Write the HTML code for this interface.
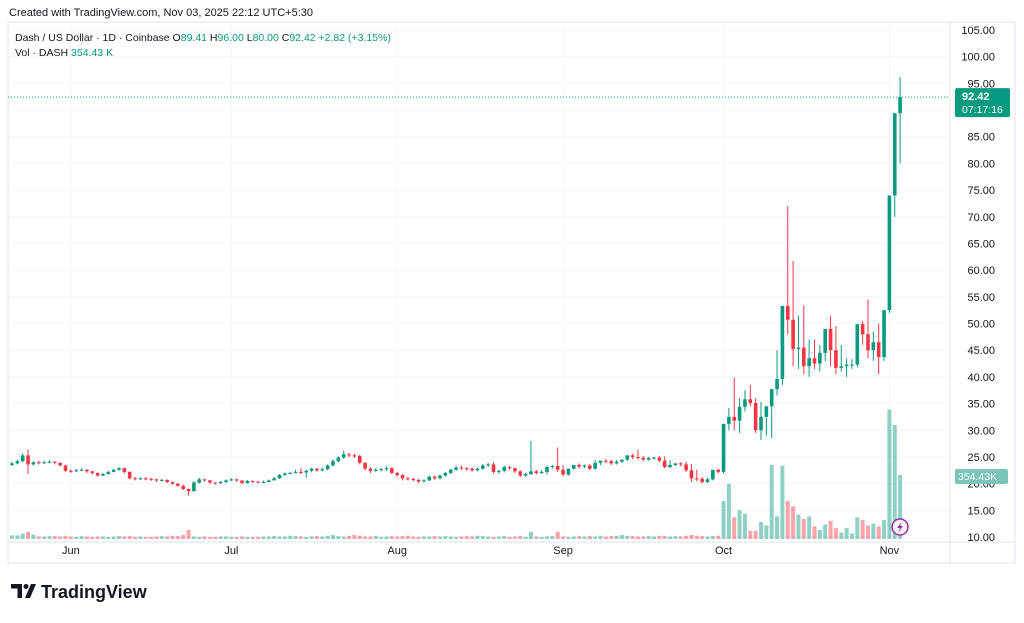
<!DOCTYPE html>
<html><head><meta charset="utf-8"><style>
body{margin:0;background:#fff;width:1024px;height:618px;overflow:hidden;font-family:"Liberation Sans",sans-serif}
svg text{font-family:"Liberation Sans",sans-serif}
</style></head><body>
<svg id="chart" width="1024" height="618" viewBox="0 0 1024 618" xmlns="http://www.w3.org/2000/svg">
<rect x="0" y="0" width="1024" height="618" fill="#fff"/>
<text x="9" y="16" font-size="11" fill="#131722">Created with TradingView.com, Nov 03, 2025 22:12 UTC+5:30</text>
<rect x="8" y="22" width="1007" height="541" fill="none" stroke="#e0e3eb"/>
<line x1="950" y1="22" x2="950" y2="563" stroke="#e0e3eb"/>
<line x1="8" y1="542" x2="1015" y2="542" stroke="#e0e3eb"/>
<g id="grid"></g><g id="vols"></g><g id="candles"></g><g id="axis"></g>
<text x="15" y="41" font-size="10.5" fill="#131722">Dash / US Dollar · 1D · Coinbase  O<tspan fill="#089981">89.41</tspan>  H<tspan fill="#089981">96.00</tspan>  L<tspan fill="#089981">80.00</tspan>  C<tspan fill="#089981">92.42</tspan>  <tspan fill="#089981">+2.82 (+3.15%)</tspan></text>
<text x="15" y="56" font-size="10.5" fill="#131722">Vol · DASH  <tspan fill="#089981">354.43 K</tspan></text>
<g><circle cx="900" cy="527" r="8" fill="#fff" stroke="#9c27b0" stroke-width="1.5"/><path d="M902 521 L897 528 L900 528 L898 533 L903 526 L900 526 Z" fill="#9c27b0"/></g>
<g><path d="M11 584h11v14h-4.5v-9.5h-6.5z M31 584h5l-6 14h-5z" fill="#131722"/><circle cx="26" cy="586.5" r="2.5" fill="#131722"/><text x="41" y="598" font-size="18" font-weight="bold" fill="#131722">TradingView</text></g>
</svg>
<script>
const closes=[23.8,24.2,25.3,23.6,24.0,23.9,24.0,24.1,23.9,23.4,22.4,
22.3,22.5,22.6,22.3,22.0,21.5,21.8,22.2,22.6,22.9,
22.2,21.0,20.9,21.0,20.9,20.8,20.6,20.7,20.3,20.0,
19.6,19.0,18.6,20.2,20.8,20.6,20.2,20.1,20.3,20.6,
20.8,20.6,20.1,20.5,20.4,20.3,20.3,20.6,21.0,21.6,
21.9,22.0,22.2,22.1,22.4,22.8,22.5,22.7,23.4,24.2,
24.9,25.5,25.3,25.2,23.9,22.8,22.4,22.6,22.7,22.9,22.0,
21.6,21.0,20.9,20.7,20.4,20.6,21.3,21.0,21.5,22.0,22.6,
23.0,22.9,22.8,22.5,22.8,23.4,23.6,22.2,22.4,23.1,
22.9,22.3,21.5,21.8,22.3,22.0,22.2,23.1,23.3,22.6,
21.7,22.8,23.5,23.2,23.4,22.8,23.9,24.3,24.2,23.8,
24.1,24.5,25.3,25.0,24.8,24.5,24.8,24.9,24.3,23.1,
23.5,23.8,23.6,22.5,21.0,20.9,20.3,20.8,22.6,22.2,
31.2,32.5,31.8,34.4,35.8,35.1,30.0,32.5,34.5,37.7,39.6,
53.3,50.7,45.2,45.5,42.0,43.5,42.5,44.5,49.0,45.0,41.7,
42.0,42.3,42.3,49.9,48.0,45.0,46.5,43.7,52.5,74.0,89.41,92.42];
const highs=[24.1,24.5,25.7,26.4,24.2,24.3,24.3,24.4,24.2,24.0,23.5,
22.7,22.8,22.9,22.7,22.4,22.1,22.0,22.4,22.8,23.1,
23.0,22.3,21.3,21.2,21.2,21.1,20.9,20.9,20.8,20.4,
20.1,19.8,19.1,20.5,21.1,20.9,20.7,20.3,20.5,20.8,
21.0,20.9,20.6,20.7,20.6,20.5,20.6,20.8,21.2,21.8,
22.1,22.2,22.6,22.9,22.6,23.0,22.9,23.0,23.6,24.6,
25.1,26.2,25.8,25.6,25.4,24.0,23.1,22.9,23.0,23.2,23.1,
22.2,21.8,21.3,21.1,20.9,20.8,21.5,21.5,21.7,22.2,22.8,
23.4,23.4,23.1,23.0,23.0,23.7,23.9,24.0,22.6,23.4,
23.3,23.0,22.5,22.0,28.0,22.6,22.5,23.4,23.5,26.8,
23.5,22.8,23.1,23.8,23.6,23.7,24.4,24.2,24.6,24.5,
24.4,24.3,24.7,25.6,26.4,25.2,25.0,25.0,25.2,25.1,
24.4,23.7,24.0,24.1,23.7,22.6,21.3,21.1,20.9,22.8,22.8,
34.2,39.8,36.0,37.5,38.5,36.0,35.3,33.5,35.5,45.0,43.7,
72.0,61.7,51.5,53.4,47.0,47.0,46.0,45.5,51.5,49.5,46.0,
43.5,43.3,43.0,50.5,54.5,48.5,50.0,47.0,53.5,79.5,96.2,96.0];
const lows=[23.3,23.6,24.0,21.8,23.4,23.6,23.7,23.8,23.6,23.2,22.2,
22.0,22.2,22.3,22.0,21.7,21.3,21.4,21.7,22.1,22.4,
21.9,20.8,20.6,20.7,20.6,20.5,20.3,20.4,20.1,19.8,
19.4,18.8,17.8,18.5,20.0,20.4,19.9,19.8,19.9,20.1,
20.5,20.3,19.9,20.0,20.1,20.0,20.1,20.3,20.8,20.9,
21.5,21.7,21.9,21.8,21.1,22.1,22.2,22.3,22.5,23.2,
24.0,24.6,24.9,24.8,23.6,22.5,22.0,22.2,22.3,22.4,21.8,
21.3,20.6,20.6,20.4,20.1,20.2,20.5,20.7,20.8,21.3,21.8,
22.4,22.6,22.4,22.2,22.3,22.6,23.1,21.9,21.8,22.1,
22.6,22.0,21.2,21.3,21.6,21.7,21.8,21.7,22.8,22.2,
21.4,21.5,22.6,22.8,22.9,22.5,22.6,23.5,23.8,23.5,
23.6,23.9,24.2,24.6,24.5,24.2,24.3,24.5,24.0,22.9,
22.9,23.3,23.2,22.2,20.3,20.4,20.0,20.1,20.6,21.9,
21.9,30.0,30.0,29.5,33.5,34.5,29.5,28.2,29.0,28.5,36.5,
38.5,48.0,42.0,41.5,40.5,40.0,41.5,41.0,43.0,42.0,40.5,
41.0,40.0,41.5,41.8,46.0,43.5,43.0,40.5,43.0,52.0,70.0,80.0];
const volumes=[20,20,30,40,25,14,14,16,16,14,18,
14,12,16,14,12,14,14,12,14,16,
14,16,12,14,12,12,14,16,14,18,
16,22,50,14,12,14,12,12,14,14,
12,12,14,12,12,12,14,14,16,14,
14,18,16,14,12,14,16,14,18,22,
16,14,18,22,18,14,14,16,12,14,16,
14,16,18,14,12,14,14,16,14,16,14,
12,14,16,14,18,16,14,12,14,16,
12,14,16,12,40,14,12,14,16,40,
14,12,14,16,14,16,14,18,14,16,
18,22,18,16,14,14,16,14,18,16,
14,16,14,18,22,18,16,14,16,18,
210,305,120,160,140,45,45,95,75,410,125,
405,210,180,135,110,125,70,50,80,100,60,
35,60,30,120,105,75,85,70,105,715,630,354.43];
const priceTicks=[10,15,20,25,30,35,40,45,50,55,60,65,70,75,80,85,90,95,100,105];
const monthLabels=["Jun","Jul","Aug","Sep","Oct","Nov"];
const monthIndex=[11,41,72,103,133,164];
const NS="http://www.w3.org/2000/svg";
const X0=12,DX=5.35;
function xs(i){return X0+i*DX;}
function ys(p){return 537-(p-10)*5.337;}
function yv(v){return 539-v*0.181;}
function mk(tag,at,parent){const e=document.createElementNS(NS,tag);for(const k in at)e.setAttribute(k,at[k]);document.getElementById(parent).appendChild(e);return e;}
const G="#089981",R="#f23645";
priceTicks.forEach((p,i)=>{
 const l=mk('line',{x1:8,x2:950,y1:ys(p),y2:ys(p),stroke:'#f3f5fa'},'grid');
 
 
 const t=mk('text',{x:995,y:ys(p)+4,'font-size':11,fill:'#131722','text-anchor':'end'},'axis');
 t.textContent=p.toFixed(2);
 
 
});
monthLabels.forEach((m,i)=>{
 const x=xs(monthIndex[i]);
 const l=mk('line',{x1:x,x2:x,y1:22,y2:542,stroke:'#f3f5fa'},'grid');
 
 
 const t=mk('text',{x:x,y:554,'font-size':11,fill:'#131722','text-anchor':'middle'},'axis');
 t.textContent=m;
 
 
});
closes.forEach((c,i)=>{
 const o=i===0?23.5:closes[i-1];
 const up=c>=o,col=up?G:R,x=xs(i);
 const v=mk('rect',{x:x-2,y:yv(volumes[i]),width:4,height:539-yv(volumes[i]),fill:up?'rgba(8,153,129,0.45)':'rgba(242,54,69,0.45)'},'vols');
 
 
 const w=mk('line',{x1:x,x2:x,y1:ys(highs[i]),y2:ys(lows[i]),stroke:col,'stroke-width':1},'candles');
 
 
 const top=ys(Math.max(o,c)),bot=ys(Math.min(o,c));
 const b=mk('rect',{x:x-1.8,y:top,width:3.6,height:Math.max(1,bot-top),fill:col},'candles');
 
 
});
const last=closes[closes.length-1];
const dl=mk('line',{x1:8,x2:950,y1:ys(last),y2:ys(last),stroke:G,'stroke-dasharray':'1 2'},'axis');


const pb=mk('rect',{x:955,y:ys(last)-9,width:55,height:29,fill:G,rx:2},'axis');


const pt=mk('text',{x:962,y:ys(last)+3,'font-size':11,fill:'#fff','font-weight':'bold'},'axis');
pt.textContent=last.toFixed(2);


const ct=mk('text',{x:962,y:ys(last)+16,'font-size':10.5,fill:'#fff'},'axis');
ct.textContent='07:17:16';


const vb=mk('rect',{x:955,y:469,width:53,height:15,fill:'#7cc4b8',rx:2},'axis');


const vt=mk('text',{x:958,y:480,'font-size':10.5,fill:'#fff'},'axis');
vt.textContent='354.43K';


</script>
</body></html>
